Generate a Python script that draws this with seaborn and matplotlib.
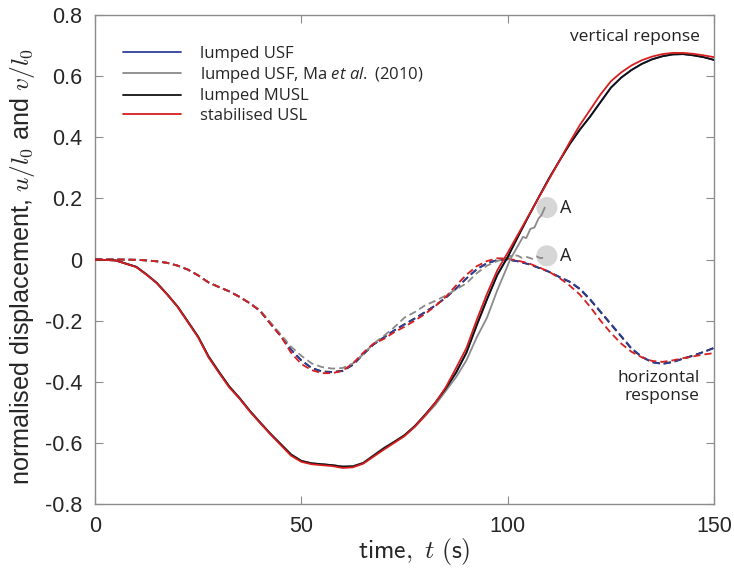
import matplotlib
matplotlib.use("Agg")
import matplotlib.pyplot as plt
from matplotlib.font_manager import FontProperties
import seaborn as sns

# ---- data -------------------------------------------------------------
t = [0, 5, 10, 12.5, 15, 17.5, 20, 22.5, 25, 27.5, 30, 32.5, 35, 37.5, 40,
     42.5, 45, 47.5, 50, 52.5, 55, 57.5, 60, 62.5, 65, 67.5, 70, 72.5, 75,
     77.5, 80, 82.5, 85, 87.5, 90, 92.5, 95, 97.5, 100, 102.5, 105, 107.5,
     110, 112.5, 115, 117.5, 120, 122.5, 125, 127.5, 130, 132.5, 135, 137.5,
     140, 142.5, 145, 147.5, 150]

# vertical response v/l0
v_usl = [0, -0.003, -0.025, -0.05, -0.078, -0.115, -0.155, -0.205, -0.255,
         -0.32, -0.37, -0.418, -0.455, -0.497, -0.535, -0.572, -0.607, -0.642,
         -0.662, -0.670, -0.673, -0.676, -0.682, -0.680, -0.668, -0.645,
         -0.622, -0.600, -0.578, -0.547, -0.51, -0.468, -0.418, -0.355, -0.29,
         -0.198, -0.112, -0.035, 0.022, 0.082, 0.142, 0.202, 0.262, 0.322,
         0.383, 0.44, 0.49, 0.54, 0.583, 0.612, 0.635, 0.652, 0.664, 0.672,
         0.676, 0.676, 0.673, 0.668, 0.662]
v_musl = [0, -0.003, -0.024, -0.049, -0.077, -0.114, -0.154, -0.203, -0.253,
          -0.317, -0.367, -0.415, -0.453, -0.495, -0.533, -0.570, -0.604,
          -0.638, -0.659, -0.667, -0.670, -0.673, -0.678, -0.677, -0.666,
          -0.642, -0.618, -0.597, -0.575, -0.545, -0.508, -0.468, -0.422,
          -0.37, -0.305, -0.215, -0.13, -0.05, 0.008, 0.075, 0.14, 0.203,
          0.265, 0.322, 0.377, 0.425, 0.468, 0.515, 0.562, 0.595, 0.62, 0.64,
          0.655, 0.665, 0.671, 0.672, 0.668, 0.662, 0.653]
v_usf = [0, -0.003, -0.024, -0.049, -0.077, -0.114, -0.154, -0.203, -0.253,
         -0.317, -0.367, -0.415, -0.453, -0.495, -0.533, -0.570, -0.604,
         -0.638, -0.659, -0.667, -0.670, -0.673, -0.678, -0.677, -0.666,
         -0.642, -0.618, -0.597, -0.575, -0.545, -0.508, -0.468, -0.422,
         -0.37, -0.305, -0.215, -0.13, -0.05, 0.008, 0.075, 0.14, 0.203,
         0.265, 0.322, 0.377, 0.425, 0.468, 0.515, 0.562, 0.595, 0.62, 0.64,
         0.655, 0.665, 0.671, 0.672, 0.668, 0.662, 0.653]

t_ma_v = [0, 5, 10, 12.5, 15, 17.5, 20, 22.5, 25, 27.5, 30, 32.5, 35, 37.5,
          40, 42.5, 45, 47.5, 50, 52.5, 55, 57.5, 60, 62.5, 65, 67.5, 70,
          72.5, 75, 77.5, 80, 82.5, 85, 87.5, 90, 92.5, 95, 97.5, 100, 100.6,
          102.5, 103.7, 104.5, 105.5, 106.5, 107.5, 108.2, 109]
v_ma = [0, -0.003, -0.024, -0.049, -0.077, -0.114, -0.154, -0.203, -0.253,
        -0.317, -0.367, -0.415, -0.453, -0.495, -0.533, -0.570, -0.604,
        -0.638, -0.659, -0.667, -0.670, -0.673, -0.677, -0.676, -0.665,
        -0.640, -0.616, -0.596, -0.575, -0.548, -0.512, -0.475, -0.43,
        -0.385, -0.33, -0.255, -0.19, -0.10, -0.02, 0.0, 0.045, 0.074, 0.07,
        0.10, 0.105, 0.135, 0.145, 0.17]

# horizontal response u/l0
u_usf = [0, 0, -0.001, -0.003, -0.006, -0.011, -0.02, -0.033, -0.052, -0.075,
         -0.09, -0.104, -0.122, -0.143, -0.168, -0.21, -0.25, -0.295, -0.33,
         -0.355, -0.367, -0.369, -0.365, -0.345, -0.31, -0.278, -0.255,
         -0.232, -0.212, -0.193, -0.172, -0.15, -0.125, -0.095, -0.062,
         -0.032, -0.012, -0.002, 0.0, -0.006, -0.015, -0.027, -0.04, -0.057,
         -0.072, -0.095, -0.13, -0.17, -0.21, -0.25, -0.29, -0.318, -0.336,
         -0.342, -0.336, -0.325, -0.315, -0.303, -0.29]
u_musl = [0, 0, -0.001, -0.003, -0.006, -0.011, -0.02, -0.033, -0.052, -0.075,
          -0.09, -0.104, -0.122, -0.143, -0.168, -0.21, -0.25, -0.295, -0.33,
          -0.355, -0.366, -0.368, -0.364, -0.344, -0.31, -0.278, -0.255,
          -0.232, -0.212, -0.193, -0.172, -0.15, -0.125, -0.095, -0.062,
          -0.032, -0.012, -0.002, 0.0, -0.006, -0.015, -0.027, -0.04, -0.057,
          -0.073, -0.097, -0.132, -0.172, -0.212, -0.252, -0.292, -0.319,
          -0.336, -0.341, -0.335, -0.324, -0.314, -0.302, -0.289]
u_usl = [0, 0, -0.001, -0.003, -0.006, -0.011, -0.02, -0.033, -0.052, -0.075,
         -0.09, -0.104, -0.122, -0.143, -0.168, -0.21, -0.25, -0.305, -0.342,
         -0.362, -0.372, -0.372, -0.364, -0.34, -0.305, -0.275, -0.26, -0.238,
         -0.22, -0.2, -0.178, -0.152, -0.122, -0.085, -0.05, -0.022, -0.005,
         0.004, 0.003, -0.004, -0.012, -0.025, -0.04, -0.06, -0.085, -0.115,
         -0.155, -0.2, -0.24, -0.275, -0.302, -0.32, -0.332, -0.335, -0.33,
         -0.323, -0.317, -0.311, -0.306]

t_ma_u = [0, 5, 10, 12.5, 15, 17.5, 20, 22.5, 25, 27.5, 30, 32.5, 35, 37.5,
          40, 42.5, 45, 47.5, 50, 52.5, 55, 57.5, 60, 62.5, 65, 67.5, 70,
          72.5, 75, 77.5, 80, 82.5, 85, 87.5, 90, 92.5, 95, 97.5, 99.5, 101.3,
          102.5, 103.5, 104.7, 106, 107, 108, 109]
u_ma = [0, 0, -0.001, -0.003, -0.006, -0.011, -0.02, -0.033, -0.052, -0.075,
        -0.09, -0.104, -0.122, -0.143, -0.166, -0.205, -0.245, -0.285, -0.315,
        -0.34, -0.352, -0.357, -0.355, -0.34, -0.31, -0.275, -0.25, -0.222,
        -0.19, -0.172, -0.15, -0.135, -0.118, -0.098, -0.078, -0.045, -0.02,
        -0.005, 0.004, 0.015, 0.012, 0.005, 0.008, 0.002, 0.01, 0.004, 0.008]

# end points of the Ma et al. (2010) run
a_t = [109.5, 109.5]
a_v = [0.17, 0.012]

series_labels = ["lumped USF", "lumped USF, Ma $et\\ al.$ (2010)",
                 "lumped MUSL", "stabilised USL"]
x_ticks = [0, 50, 100, 150]
y_ticks = [-0.8, -0.6, -0.4, -0.2, 0, 0.2, 0.4, 0.6, 0.8]
y_ticklabels = ["-0.8", "-0.6", "-0.4", "-0.2", "0", "0.2", "0.4", "0.6", "0.8"]

# ---- style ------------------------------------------------------------
sns.set_style("ticks")
plt.rcParams["font.family"] = ["Liberation Sans", "DejaVu Sans"]
plt.rcParams["mathtext.fontset"] = "cm"
# custom math fonts, used only by the legend text
plt.rcParams["mathtext.rm"] = "Open Sans"
plt.rcParams["mathtext.it"] = "Open Sans:italic"
plt.rcParams["mathtext.bf"] = "Open Sans:bold"

BLUE = "#2e3f9c"
GREY = "#8a8a8a"
BLACK = "#111111"
RED = "#d61e1e"
FRAME = "#8c8c8c"
TXT = ["Open Sans", "DejaVu Sans"]
ANN = "#222222"

fig = plt.figure(figsize=(7.34, 5.70), dpi=100)
ax = fig.add_axes([95 / 734, 1 - 504 / 570, 619 / 734, 489 / 570])

lw = 1.3
dash = (0, (4, 2.2))

# markers at the end of the Ma et al. curves
sns.scatterplot(x=a_t, y=a_v, ax=ax, s=230, color="#d6d6d6", edgecolor="none",
                zorder=1, legend=False)

# horizontal response (dashed)
sns.lineplot(x=t, y=u_musl, ax=ax, color=BLACK, lw=lw, linestyle=dash,
             sort=False, estimator=None, zorder=3)
sns.lineplot(x=t, y=u_usf, ax=ax, color=BLUE, lw=lw, linestyle=dash,
             sort=False, estimator=None, zorder=3)
sns.lineplot(x=t_ma_u, y=u_ma, ax=ax, color=GREY, lw=lw, linestyle=dash,
             sort=False, estimator=None, zorder=3)
sns.lineplot(x=t, y=u_usl, ax=ax, color=RED, lw=lw, linestyle=dash,
             sort=False, estimator=None, zorder=3)

# vertical response (solid)
sns.lineplot(x=t, y=v_usf, ax=ax, color=BLUE, lw=lw, sort=False,
             estimator=None, label=series_labels[0], zorder=4)
sns.lineplot(x=t_ma_v, y=v_ma, ax=ax, color=GREY, lw=lw, sort=False,
             estimator=None, label=series_labels[1], zorder=4)
sns.lineplot(x=t, y=v_musl, ax=ax, color=BLACK, lw=lw, sort=False,
             estimator=None, label=series_labels[2], zorder=4)
sns.lineplot(x=t, y=v_usl, ax=ax, color=RED, lw=lw, sort=False,
             estimator=None, label=series_labels[3], zorder=5)

# ---- axes -------------------------------------------------------------
ax.set_xlim(0, 150)
ax.set_ylim(-0.8, 0.8)
ax.set_xticks(x_ticks)
ax.set_yticks(y_ticks)
ax.set_yticklabels(y_ticklabels)
ax.tick_params(direction="in", length=6, width=0.8, color=FRAME,
               labelsize=15.5, pad=9, top=True, right=True)
for sp in ax.spines.values():
    sp.set_color(FRAME)
    sp.set_linewidth(1.0)

ax.set_xlabel(r"$\mathsf{time,}\ t\ \mathsf{(s)}$", fontsize=18.5)
ax.xaxis.set_label_coords(0.515, -0.065)
ax.set_ylabel(r"normalised displacement, $u/l_0$ and $v/l_0$",
              fontsize=18.2)
ax.yaxis.set_label_coords(-0.093, 0.485)

leg_font = FontProperties(family=TXT, size=12, math_fontfamily="custom")
leg = ax.legend(loc="upper left", bbox_to_anchor=(0.045, 0.937), frameon=False,
                handlelength=3.5, handletextpad=1.1, labelspacing=0.2,
                borderaxespad=0, borderpad=0, prop=leg_font)

ax.text(146.5, 0.728, "vertical reponse", ha="right", va="center",
        fontsize=12.5, family=TXT, color=ANN)
ax.text(146.5, -0.418, "horizontal\nresponse", ha="right", va="center",
        fontsize=12.5, family=TXT, color=ANN, linespacing=1.15)
for yy in a_v:
    ax.text(112.7, yy, "A", ha="left", va="center", fontsize=13, family=TXT,
            color=ANN)

fig.savefig("out.png", dpi=100)
